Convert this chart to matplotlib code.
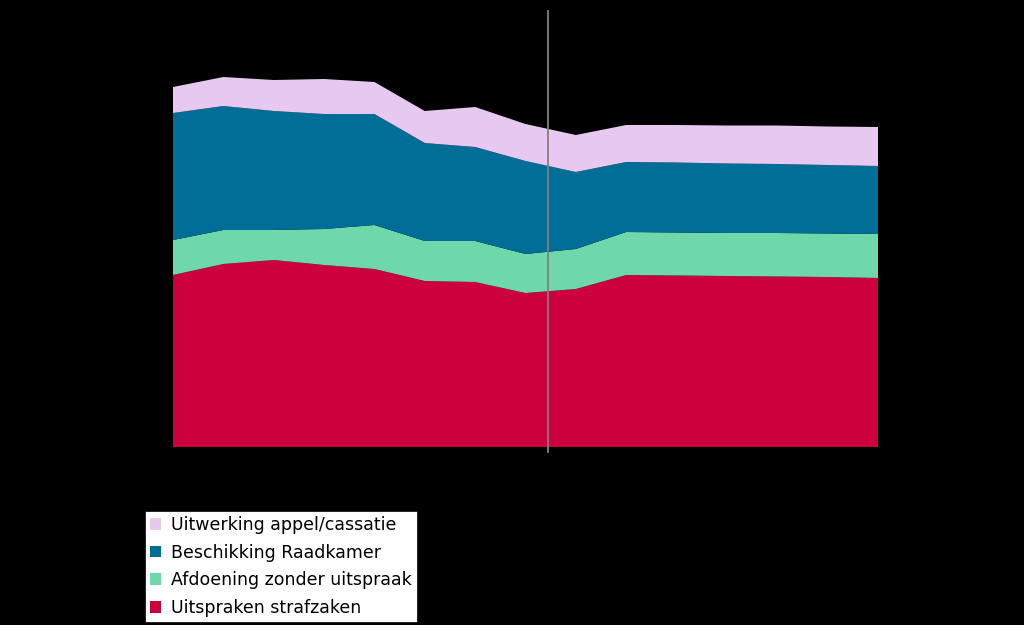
import numpy as np
import matplotlib.pyplot as plt
from matplotlib.patches import Patch

# periods (15 points, split between realised and forecast)
periods = list(range(15))
split_at = 7.45

uitspraken = [172, 183, 187, 182, 178, 166, 165, 154, 158, 172, 171.5, 171, 170.5, 170, 169]
afdoening = [35, 34, 30, 36, 44, 40, 41, 39, 40, 43, 43, 43, 43.5, 43.5, 44]
beschikking = [127, 124, 119, 115, 111, 98, 94, 93, 77, 70, 70, 69.5, 69, 68.5, 68]
uitwerking = [26, 29, 31, 35, 32, 32, 40, 37, 37, 37, 37.5, 38, 38.5, 38.5, 39]

labels = ['Uitspraken strafzaken', 'Afdoening zonder uitspraak',
          'Beschikking Raadkamer', 'Uitwerking appel/cassatie']
colors = ['#CC003C', '#6ED8AA', '#006E96', '#E6C8F0']

fig = plt.figure(figsize=(10.24, 6.25), dpi=100, facecolor='black')
ax = fig.add_axes([173/1024, 178/625, 705/1024, 420/625])
ax.set_facecolor('black')

ax.stackplot(periods, uitspraken, afdoening, beschikking, uitwerking,
             colors=colors, linewidth=0)
ax.set_xlim(0, 14)
ax.set_ylim(0, 420)
ax.plot([split_at, split_at], [-5, 436], color='#7F7F7F', linewidth=1.3, clip_on=False)
ax.axis('off')

handles = [Patch(facecolor=c, edgecolor='none') for c in colors][::-1]
leg = fig.legend(handles, labels[::-1], loc='upper left',
                 bbox_to_anchor=(145/1024, 1 - 511/625), fontsize=12.5,
                 frameon=True, fancybox=False, edgecolor='black', framealpha=1,
                 handlelength=0.65, handleheight=0.65, handletextpad=0.57,
                 labelspacing=0.55, borderpad=0.3, borderaxespad=0)
leg.get_frame().set_facecolor('white')
leg.get_frame().set_linewidth(0.5)

fig.savefig('out.png', facecolor='black')
